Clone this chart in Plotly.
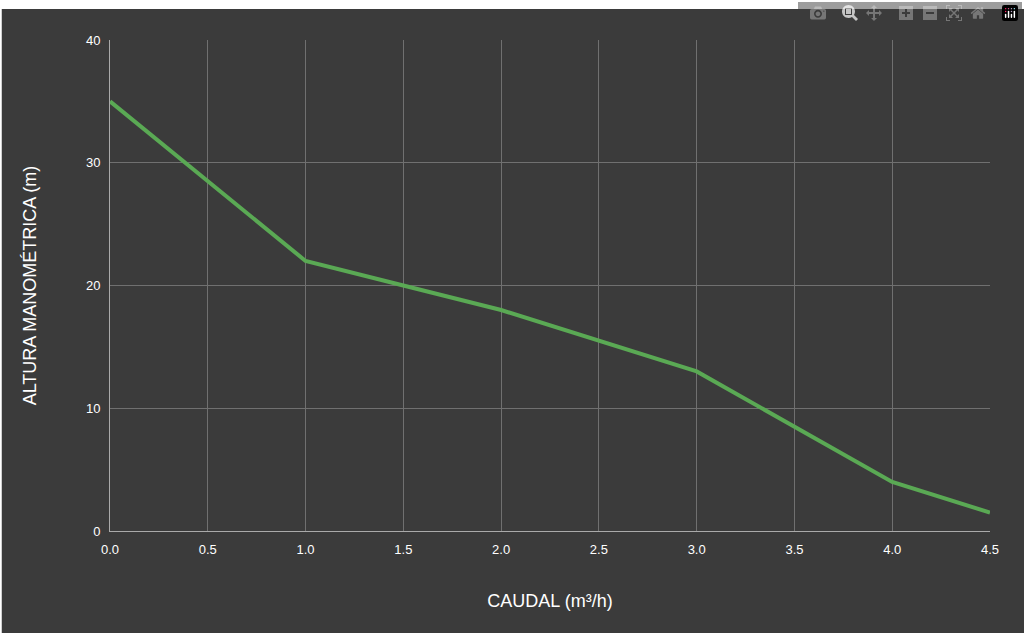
import plotly.graph_objects as go

caudal = [0.0, 1.0, 1.5, 2.0, 3.0, 4.0, 4.5]
altura = [35, 22, 20, 18, 13, 4, 1.5]
x_ticks = [0, 0.5, 1, 1.5, 2, 2.5, 3, 3.5, 4, 4.5]

fig = go.Figure()
fig.add_trace(go.Scatter(
    x=caudal, y=altura, mode='lines',
    line=dict(color='#5aa954', width=4),
    showlegend=False
))

grid = '#707070'
fig.update_layout(
    width=1024, height=633,
    paper_bgcolor='#3b3b3b',
    plot_bgcolor='#3b3b3b',
    margin=dict(l=110, r=34, t=40, b=102),
    font=dict(family='Liberation Sans, Arial', color='white'),
    xaxis=dict(
        range=[0, 4.5], tickvals=x_ticks, tickformat='.1f',
        showgrid=True, gridcolor=grid, linecolor='#aaaaaa', showline=True,
        zeroline=False, tickfont=dict(size=13), ticklabelstandoff=6,
        title=dict(text='CAUDAL (m³/h)', font=dict(size=18), standoff=38),
    ),
    yaxis=dict(
        range=[0, 40], dtick=10,
        showgrid=True, gridcolor=grid, linecolor='#aaaaaa', showline=True,
        zeroline=False, tickfont=dict(size=13), ticklabelstandoff=6,
        title=dict(text='ALTURA MANOMÉTRICA (m)', font=dict(size=18), standoff=44),
    ),
    shapes=[
        dict(type='rect', xref='paper', yref='paper', x0=-0.2, x1=1.1,
             y0=1.0 + 31 / 491, y1=1.2, fillcolor='white', line=dict(width=0)),
        dict(type='rect', xref='paper', yref='paper', x0=-0.2, x1=-0.123,
             y0=-0.3, y1=1.2, fillcolor='white', line=dict(width=0)),
    ],
)

fig.write_html("out.html", post_script="document.body.style.margin='0';")
